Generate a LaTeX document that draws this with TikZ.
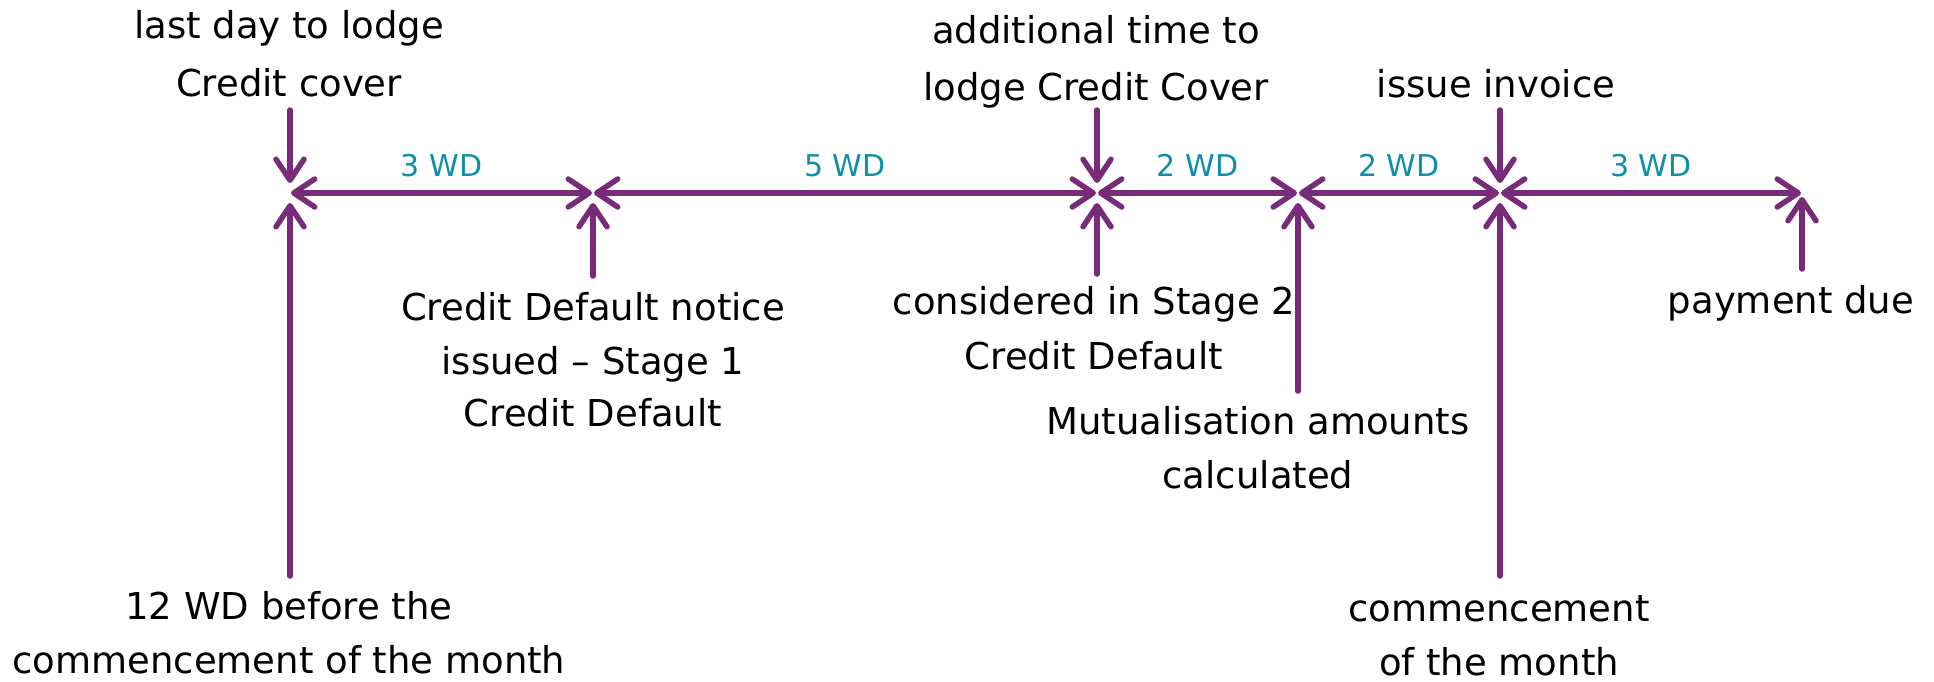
\documentclass[tikz,border=0pt]{standalone}
\usepackage{fontspec}
\setmainfont{DejaVu Sans}
\usetikzlibrary{arrows.meta}
\definecolor{tlpurple}{RGB}{119,43,121}
\definecolor{tlteal}{RGB}{14,142,170}
\tikzset{
  barb/.tip={Straight Barb[length=21pt,width=28pt,round]},
  tl/.style={draw=tlpurple, line width=5.5pt, line cap=round, -barb},
  tlboth/.style={tl, barb-barb, shorten <=1pt, shorten >=1pt},
  vin/.style={tl, shorten >=10pt},
  lbl/.style={font=\fontsize{37}{44}\selectfont, inner sep=0pt, anchor=base, text=black},
  wd/.style={font=\fontsize{30}{34}\selectfont, inner sep=0pt, anchor=base, text=tlteal, pos=0.5, yshift=17pt},
}
\begin{document}
\begin{tikzpicture}[x=1pt,y=-1pt]
\path[use as bounding box] (0,0) rectangle (1934,681);
% timeline points
\coordinate (A) at (290,193);
\coordinate (B) at (593,193);
\coordinate (C) at (1097,193);
\coordinate (D) at (1298,193);
\coordinate (E) at (1500,193);
\coordinate (F) at (1802,193);
% free ends of the vertical arrows
\coordinate (At) at (290,110);
\coordinate (Ab) at (290,576);
\coordinate (Bb) at (593,276);
\coordinate (Ct) at (1097,110);
\coordinate (Cb) at (1097,274);
\coordinate (Db) at (1298,391);
\coordinate (Et) at (1500,110);
\coordinate (Eb) at (1500,576);
\coordinate (Fb) at (1802,269);
% horizontal spans
\draw[tlboth] (A) -- node[wd] (wAB) {3 WD} (B);
\draw[tlboth] (B) -- node[wd] (wBC) {5 WD} (C);
\draw[tlboth] (C) -- node[wd] (wCD) {2 WD} (D);
\draw[tlboth] (D) -- node[wd] (wDE) {2 WD} (E);
\draw[tlboth] (E) -- node[wd] (wEF) {3 WD} (F);
% vertical arrows
\draw[vin] (At) -- (A);
\draw[vin] (Ab) -- (A);
\draw[vin] (Bb) -- (B);
\draw[vin] (Ct) -- (C);
\draw[vin] (Cb) -- (C);
\draw[vin] (Db) -- (D);
\draw[vin] (Et) -- (E);
\draw[vin] (Eb) -- (E);
\draw[tl, shorten >=4pt] (Fb) -- (F);
% labels
\node[lbl] (tA1) at (289,38) {last day to lodge};
\node[lbl] (tA2) at (289,96) {Credit cover};
\node[lbl] (tC1) at (1096,43) {additional time to};
\node[lbl] (tC2) at (1096,100) {lodge Credit Cover};
\node[lbl] (tE1) at (1496,97) {issue invoice};
\node[lbl] (bB1) at (593,320) {Credit Default notice};
\node[lbl] (bB2) at (593,374) {issued – Stage 1};
\node[lbl] (bB3) at (593,426) {Credit Default};
\node[lbl] (bC1) at (1094,314) {considered in Stage 2};
\node[lbl] (bC2) at (1094,369) {Credit Default};
\node[lbl] (bD1) at (1258,434) {Mutualisation amounts};
\node[lbl] (bD2) at (1258,488) {calculated};
\node[lbl] (bF1) at (1791,313) {payment due};
\node[lbl] (bA1) at (289,619) {12 WD before the};
\node[lbl] (bA2) at (289,673) {commencement of the month};
\node[lbl] (bE1) at (1499,621) {commencement};
\node[lbl] (bE2) at (1499,675) {of the month};
\end{tikzpicture}
\end{document}
